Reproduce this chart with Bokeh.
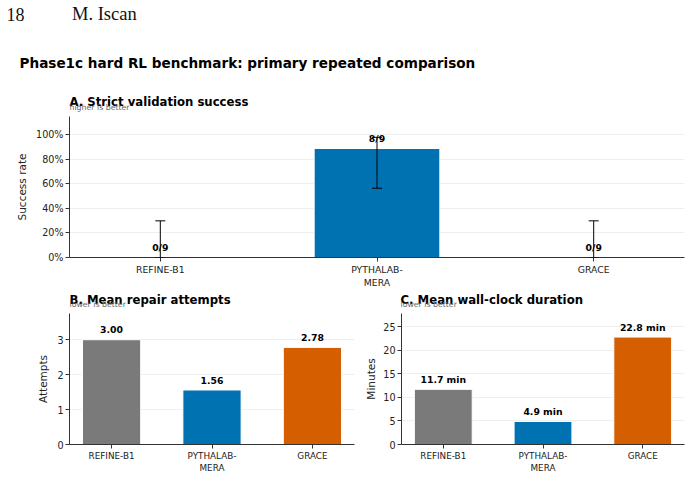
from bokeh.plotting import figure
from bokeh.layouts import column, row
from bokeh.models import (Range1d, FixedTicker, NumeralTickFormatter,
                          Whisker, TeeHead, ColumnDataSource)
from bokeh.core.properties import value
from bokeh.embed import file_html
from bokeh.resources import INLINE

# ---------------- data ----------------
categories = ["REFINE-B1", "PYTHALAB-MERA", "GRACE"]
tick_labels = ["REFINE-B1", "PYTHALAB-\nMERA", "GRACE"]
bar_colors = ["#7a7a7a", "#0072B2", "#D55E00"]
successes = [0, 8, 0]
trials = [9, 9, 9]
ci_low = [0.0, 0.565, 0.0]
ci_high = [0.299, 0.980, 0.299]
mean_attempts = [3.00, 1.56, 2.78]
mean_minutes = [11.7, 4.9, 22.8]
pct_ticks = [0, 0.2, 0.4, 0.6, 0.8, 1.0]
attempt_ticks = [0, 1, 2, 3]
minute_ticks = [0, 5, 10, 15, 20, 25]

FONT = "DejaVu Sans"
SERIF = "Liberation Serif"
xs = list(range(len(categories)))
DY = -4.5  # baseline correction for text strips


def text_strip(w, h):
    """A figure without axes whose ranges equal its pixel grid (y downwards)."""
    p = figure(width=w, height=h, x_range=Range1d(0, w), y_range=Range1d(h, 0),
               output_backend="svg", toolbar_location=None, title=None,
               x_axis_location=None, y_axis_location=None,
               min_border=0, min_border_left=0, min_border_right=0,
               min_border_top=0, min_border_bottom=0)
    p.outline_line_color = None
    p.xgrid.grid_line_color = None
    p.ygrid.grid_line_color = None
    p.background_fill_color = "white"
    p.border_fill_color = "white"
    return p


def put(p, txt, x, y, size, bold=False, color="black", font=FONT):
    p.text(x=[x], y=[y + DY], text=[txt], text_font=value(font), text_font_size=size,
           text_font_style="bold" if bold else "normal", text_color=color,
           text_align="left", text_baseline="alphabetic")


def make_fig(w, h, bl, br, bb, yend, yticks, ylabel, xtick_size, ytick_size):
    p = figure(width=w, height=h, x_range=Range1d(-0.419, 2.419),
               y_range=Range1d(0, yend), output_backend="svg", title=None,
               toolbar_location=None, min_border_left=bl, min_border_right=br,
               min_border_top=0, min_border_bottom=bb)
    p.outline_line_color = None
    p.background_fill_color = "white"
    p.border_fill_color = "white"
    p.xgrid.grid_line_color = None
    p.ygrid.grid_line_color = "#ebebeb"
    p.ygrid.grid_line_width = 0.8
    p.ygrid.ticker = FixedTicker(ticks=yticks)
    p.yaxis.ticker = FixedTicker(ticks=yticks)
    p.xaxis.ticker = FixedTicker(ticks=xs)
    p.xaxis.major_label_overrides = {i: t for i, t in zip(xs, tick_labels)}
    for ax in (p.xaxis[0], p.yaxis[0]):
        ax.axis_line_color = "#333333"
        ax.axis_line_width = 1
        ax.major_tick_line_color = "#333333"
        ax.major_tick_in = 0
        ax.major_tick_out = 4
        ax.minor_tick_line_color = None
        ax.major_label_text_font = FONT
        ax.major_label_text_color = "#222222"
        ax.major_label_standoff = 2
        ax.axis_label_text_font = FONT
        ax.axis_label_text_font_style = "normal"
        ax.axis_label_text_color = "#222222"
        ax.axis_label_text_font_size = "10.5px"
    p.xaxis.major_label_text_font_size = xtick_size
    p.yaxis.major_label_text_font_size = ytick_size
    p.yaxis.axis_label = ylabel
    p.yaxis.axis_label_standoff = 5
    return p


def bars(p, vals, labels):
    src = ColumnDataSource(dict(x=xs, v=vals, c=bar_colors, t=labels))
    p.vbar(x="x", top="v", bottom=0, width=0.58, fill_color="c",
           line_color="white", line_width=1, source=src)
    p.text(x="x", y="v", text="t", source=src, text_align="center",
           text_baseline="middle", y_offset=-10, text_font=value(FONT),
           text_font_style="bold", text_font_size="9.3px", text_color="black")
    return src


# ---------------- header + panel A titles ----------------
head = text_strip(691, 116)
put(head, "18", 6, 18, "18px", font=SERIF, color="#111111")
put(head, "M. Iscan", 71.5, 18, "18.5px", font=SERIF, color="#111111")
put(head, "Phase1c hard RL benchmark: primary repeated comparison", 19, 67,
    "13.6px", bold=True)
put(head, "A. Strict validation success", 69, 106, "11.7px", bold=True)
put(head, "higher is better", 69, 111.5, "7.8px", color="#666666")

# ---------------- panel A ----------------
pA = make_fig(691, 174, 69, 7, 33, 1.15, pct_ticks, "Success rate", "9.3px", "9.6px")
pA.yaxis.formatter = NumeralTickFormatter(format="0%")
rate = [s / t for s, t in zip(successes, trials)]
frac_labels = [f"{s}/{t}" for s, t in zip(successes, trials)]
srcA = bars(pA, rate, frac_labels)
srcA.data["lo"] = ci_low
srcA.data["hi"] = ci_high
pA.add_layout(Whisker(source=srcA, base="x", upper="hi", lower="lo",
                      dimension="height", line_color="black", line_width=1,
                      upper_head=TeeHead(size=10, line_color="black", line_width=1),
                      lower_head=TeeHead(size=10, line_color="black", line_width=1),
                      level="overlay"))

# ---------------- panel B / C titles ----------------
mid = text_strip(691, 23)
put(mid, "B. Mean repair attempts", 69, 13.5, "11.7px", bold=True)
put(mid, "lower is better", 69, 18.5, "7.8px", color="#666666")
put(mid, "C. Mean wall-clock duration", 400, 13.5, "11.7px", bold=True)
put(mid, "lower is better", 400, 18.5, "7.8px", color="#666666")

# ---------------- panel B ----------------
pB = make_fig(362, 164, 69, 8, 33, 3.75, attempt_ticks, "Attempts", "8.8px", "9.6px")
bars(pB, mean_attempts, [f"{v:.2f}" for v in mean_attempts])

# ---------------- panel C ----------------
pC = make_fig(329, 164, 38, 7, 33, 27.8, minute_ticks, "Minutes", "8.8px", "9.6px")
pC.yaxis.axis_label_standoff = 3
bars(pC, mean_minutes, [f"{v:.1f} min" for v in mean_minutes])

layout = column(row(head, spacing=0), row(pA, spacing=0), row(mid, spacing=0),
                row(pB, pC, spacing=0), spacing=0)
open("out.html", "w").write(file_html(layout, INLINE))
